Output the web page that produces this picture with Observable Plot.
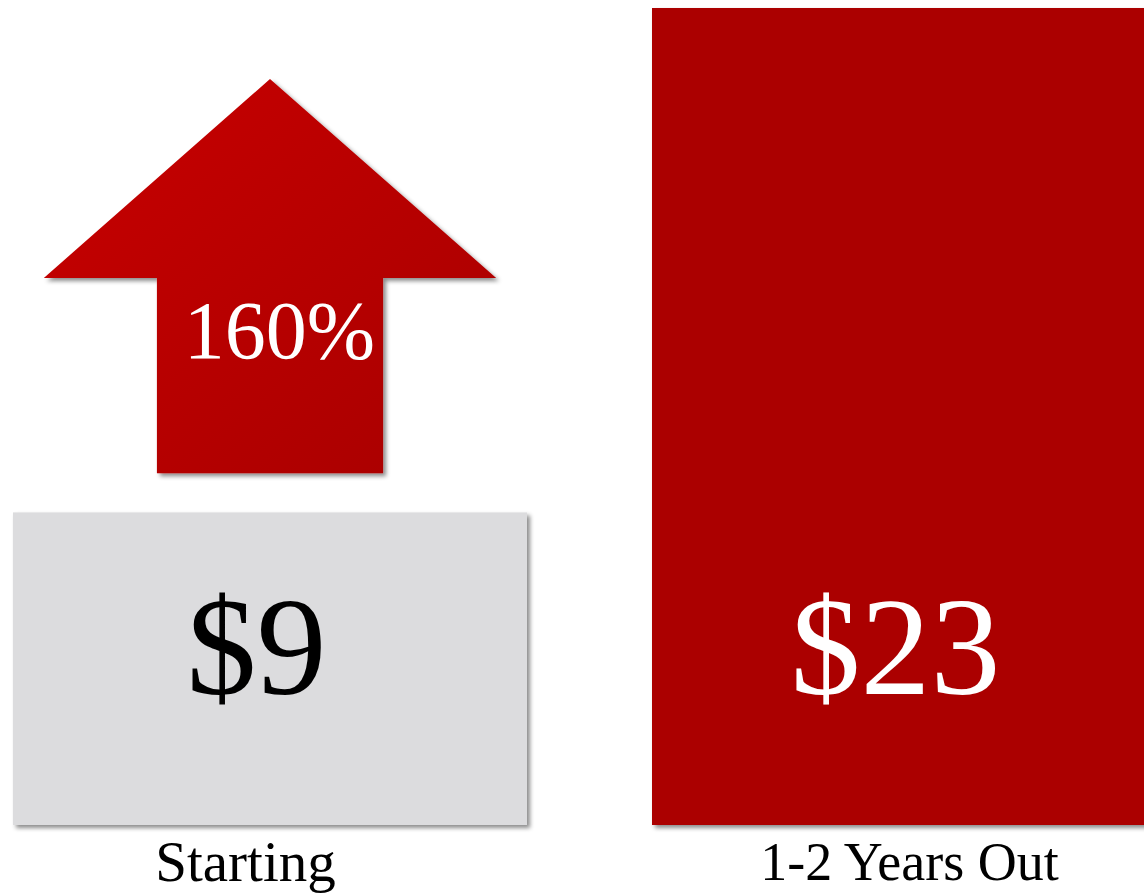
<!DOCTYPE html>
<html><head><meta charset="utf-8">
<script src="https://cdn.jsdelivr.net/npm/d3@7"></script>
<script src="https://cdn.jsdelivr.net/npm/@observablehq/plot@0.6"></script>
<style>html,body{margin:0;padding:0;background:#fff;overflow:hidden}</style>
</head><body><div id="chart"></div>
<script>
const categories = ["Starting", "1-2 Years Out"];
const values = [8.8, 23];
const valueLabels = ["$9", "$23"];
const changeLabel = ["160%"];

const data = categories.map((c, i) => ({category: c, value: values[i], label: valueLabels[i]}));
const FONT = "'Liberation Serif', 'Times New Roman', serif";
const barColors = ["#dcdcde", "#ab0000"];
const textColors = ["#000000", "#ffffff"];

// arrow shape (fractions of the bar band, values on the y scale)
const arrowShape = {headL: 0.06, headR: 0.94, shaftL: 0.28, shaftR: 0.72, bottom: 9.9, neck: 15.4, tip: 21};

function arrowMark(index, scales) {
  const sx = scales.x, sy = scales.y;
  const bw = sx.bandwidth ? sx.bandwidth() : 515;
  const x0 = sx("Starting");
  const X = f => x0 + f * bw;
  const a = arrowShape;
  const pts = [
    [X(0.5), sy(a.tip)], [X(a.headR), sy(a.neck)], [X(a.shaftR), sy(a.neck)],
    [X(a.shaftR), sy(a.bottom)], [X(a.shaftL), sy(a.bottom)], [X(a.shaftL), sy(a.neck)],
    [X(a.headL), sy(a.neck)]
  ];
  const g = d3.create("svg:g");
  g.append("path")
    .attr("d", "M" + pts.map(p => p.join(",")).join("L") + "Z")
    .attr("fill", "url(#arrowGrad)")
    .attr("filter", "url(#shadow)");
  return g.node();
}

const chart = Plot.plot({
  width: 1144,
  height: 894,
  marginTop: 8,
  marginBottom: 69,
  marginLeft: 0,
  marginRight: 0,
  style: {fontFamily: FONT, background: "#fff", overflow: "hidden"},
  x: {domain: categories, range: [12, 1167], paddingInner: 0.195, paddingOuter: 0, axis: null},
  y: {domain: [0, 23], axis: null},
  marks: [
    Plot.barY(data, {x: "category", y: "value", fill: d => barColors[categories.indexOf(d.category)]}),
    arrowMark,
    Plot.text(changeLabel, {x: () => "Starting", y: () => 13.9, text: d => d, fill: "#fff", fontSize: 82, dx: 9, lineAnchor: "middle"}),
    Plot.text(data, {x: "category", y: () => 4.95, text: "label", fill: d => textColors[categories.indexOf(d.category)], fontSize: 140, dx: -14, lineAnchor: "middle"}),
    Plot.text(data.filter(d => d.category === "Starting"), {x: "category", y: () => 0, text: "category", fill: "#000", fontSize: 57, dx: -25, dy: 37, lineAnchor: "middle"}),
    Plot.text(data.filter(d => d.category !== "Starting"), {x: "category", y: () => 0, text: "category", fill: "#000", fontSize: 54, dy: 37, lineAnchor: "middle"})
  ]
});
document.getElementById("chart").appendChild(chart);

const svg = d3.select(chart);
const defs = svg.insert("defs", ":first-child");
const grad = defs.append("linearGradient").attr("id", "arrowGrad")
  .attr("x1", "0").attr("y1", "0").attr("x2", "1").attr("y2", "1");
grad.append("stop").attr("offset", "0").attr("stop-color", "#c80000");
grad.append("stop").attr("offset", "1").attr("stop-color", "#a80000");
const f = defs.append("filter").attr("id", "shadow").attr("x", "-10%").attr("y", "-10%").attr("width", "130%").attr("height", "130%");
f.append("feDropShadow").attr("dx", 3).attr("dy", 3).attr("stdDeviation", 2).attr("flood-color", "#000").attr("flood-opacity", 0.45);
svg.selectAll("g[aria-label='bar'] rect").attr("filter", "url(#shadow)");
</script>
</body></html>
